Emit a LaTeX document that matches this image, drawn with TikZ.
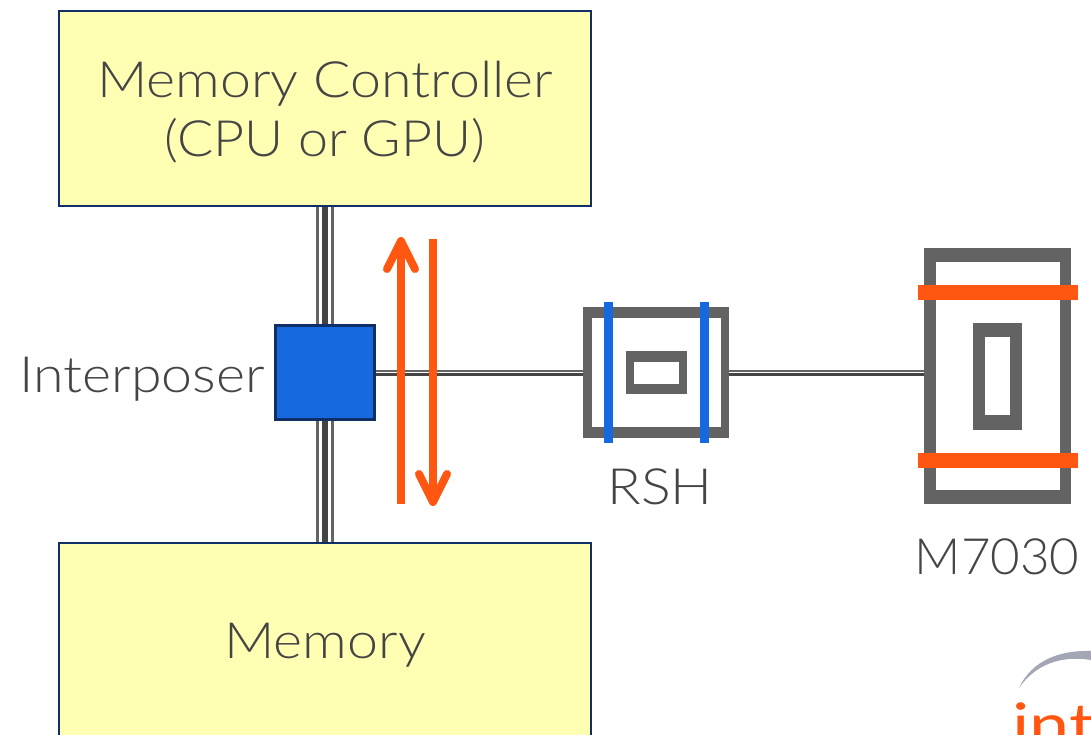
\documentclass[tikz,border=0pt]{standalone}
\usepackage{fontspec}
\setmainfont{Lato Light}[FakeStretch=1.11]
\newfontfamily\narrowfont{Lato Light}[FakeStretch=1.075]
\newfontfamily\digitfont{Lato Light}[FakeStretch=1.02]
\newfontfamily\logofont{Lato}[FakeStretch=1.2]
\usetikzlibrary{arrows.meta}
\definecolor{boxfill}{HTML}{FFFFB3}
\definecolor{navy}{HTML}{0F2F66}
\definecolor{txt}{HTML}{454545}
\definecolor{gry}{HTML}{636363}
\definecolor{busdark}{HTML}{444444}
\definecolor{ora}{HTML}{FF5712}
\definecolor{blu}{HTML}{1769DF}
\definecolor{arcgray}{HTML}{A3A7B5}
\tikzset{
  x=1pt,y=-1pt,
  yellowbox/.style={draw=navy,fill=boxfill,line width=2.4pt,rectangle,inner sep=0pt},
  lbl/.style={text=txt,inner sep=0pt,align=center,font=\fontsize{50}{59}\selectfont},
  ring/.style={fill=gry,rectangle,inner sep=0pt},
  hole/.style={fill=white,rectangle,inner sep=0pt},
  busthin/.style={draw=gry,line width=3pt},
  busthick/.style={draw=busdark,line width=6pt},
  hthin/.style={draw=gry,line width=1.6pt},
  hthick/.style={draw=busdark,line width=2.4pt},
  bluebar/.style={draw=blu,line width=9pt},
  orabar/.style={draw=ora,line width=15pt},
  flow/.style={draw=ora,line width=8pt,-{Straight Barb[length=28pt,width=28pt,round,line width=8pt]}}
}
\begin{document}
\begin{tikzpicture}
\useasboundingbox (0,0) rectangle (1091,734);
\clip (0,0) rectangle (1091,734);
\node[yellowbox,minimum width=532pt,minimum height=195pt] (mc) at (325,108.5) {};
\node[yellowbox,minimum width=532pt,minimum height=195pt] (mem) at (325,640.5) {};
\node[rectangle,draw=navy,fill=blu,line width=2.4pt,minimum width=99pt,minimum height=94pt,inner sep=0pt] (ip) at (325,372.5) {};
% RSH part
\node[ring,minimum width=145.7pt,minimum height=130.4pt] (rsh) at (656.2,372.5) {};
\node[hole,minimum width=129.3pt,minimum height=109.3pt] (rshh) at (656.3,372.6) {};
\node[ring,minimum width=60.7pt,minimum height=43.3pt] (rshin) at (656.3,372.6) {};
\node[hole,minimum width=44.7pt,minimum height=22pt] (rshinh) at (656.3,372.7) {};
% M7030 part
\node[ring,minimum width=147.6pt,minimum height=256.3pt] (m) at (997.5,376.2) {};
\node[hole,minimum width=123.7pt,minimum height=227.7pt] (mh) at (997.9,376.2) {};
\node[ring,minimum width=49.3pt,minimum height=107pt] (min) at (997.7,376.2) {};
\node[hole,minimum width=25.3pt,minimum height=77.7pt] (minh) at (997.7,376.2) {};
% buses
\foreach \a/\b in {mc.south/ip.north,ip.south/mem.north}{
  \draw[busthin] ([xshift=-7.3pt]\a) -- ([xshift=-7.3pt]\b);
  \draw[busthick] (\a) -- (\b);
  \draw[busthin] ([xshift=7.3pt]\a) -- ([xshift=7.3pt]\b);
}
\coordinate (mw) at (m.west |- rsh.east);
\foreach \a/\b in {ip.east/rsh.west,rsh.east/mw}{
  \draw[hthin] ([yshift=1.5pt]\a) -- ([yshift=1.5pt]\b);
  \draw[hthick] ([yshift=-2pt]\a) -- ([yshift=-2pt]\b);
}
% bars
\coordinate (b1t) at (608.5,302); \coordinate (b1b) at (608.5,443);
\coordinate (b2t) at (704.5,302); \coordinate (b2b) at (704.5,443);
\draw[bluebar] (b1t) -- (b1b);
\draw[bluebar] (b2t) -- (b2b);
\coordinate (o1l) at (918,292.5); \coordinate (o1r) at (1078,292.5);
\coordinate (o2l) at (918,460.5); \coordinate (o2r) at (1078,460.5);
\draw[orabar] (o1l) -- (o1r);
\draw[orabar] (o2l) -- (o2r);
% flow arrows
\coordinate (u0) at (401,504); \coordinate (u1) at (401,237);
\coordinate (d0) at (433,239); \coordinate (d1) at (433,506);
\draw[flow] (u0) -- (u1);
\draw[flow] (d0) -- (d1);
% labels
\node[lbl] (mclbl) at (325,112) {Memory Controller\\{\narrowfont (CPU or GPU)}};
\node[lbl] (memlbl) at (325,645) {Memory};
\node[lbl,anchor=east] (ilbl) at (265,379) {Interposer};
\node[lbl] (rlbl) at (660,487) {RSH};
\node[lbl,font=\digitfont\fontsize{50}{59}\selectfont] (mlbl) at (997,557) {M7030};
% logo
\fill[arcgray] (1019,688) .. controls (1032,660) and (1060,650) .. (1091,651) -- (1091,660) .. controls (1060,655) and (1035,665) .. (1019,688);
\node[anchor=base west,text=ora,inner sep=0pt,font=\logofont\fontsize{60}{60}\selectfont] (logo) at (1012,746) {int};
\end{tikzpicture}
\end{document}
